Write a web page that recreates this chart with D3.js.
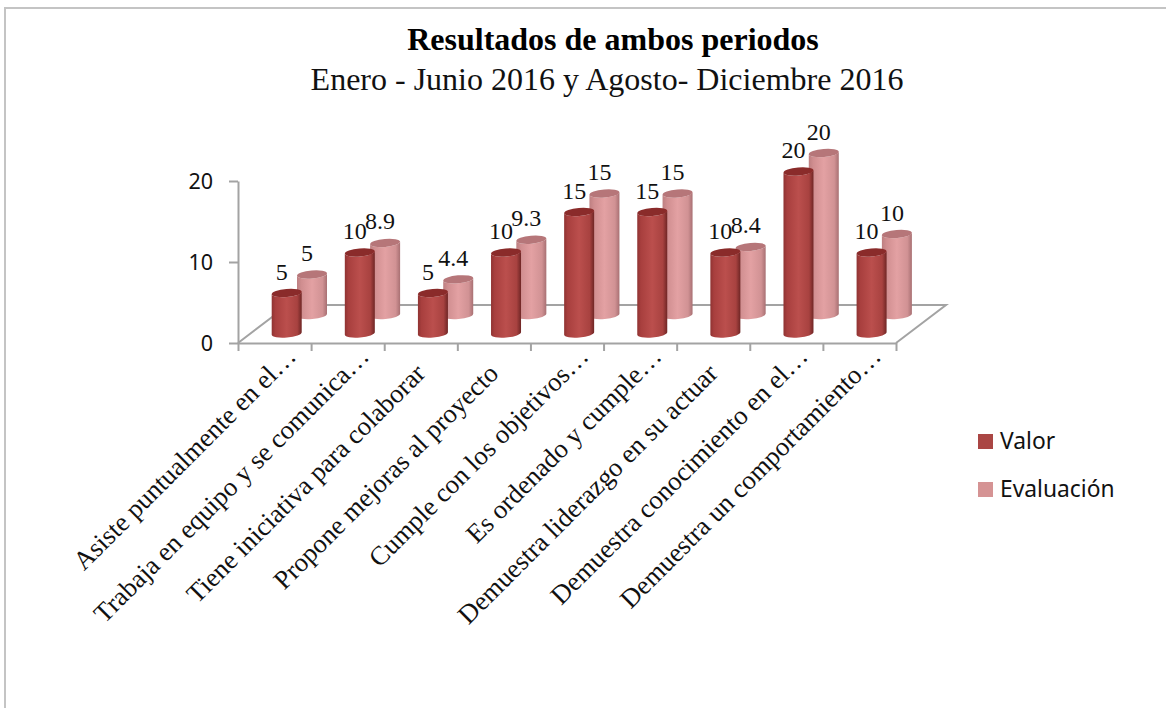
<!DOCTYPE html>
<html>
<head>
<meta charset="utf-8">
<script src="https://cdn.jsdelivr.net/npm/d3@7"></script>
<style>
  body { margin: 0; background: #fff; }
  svg { display: block; }
</style>
</head>
<body>
<svg id="chart"></svg>
<script>
const categories = [
  "Asiste puntualmente en el…",
  "Trabaja en equipo y se comunica…",
  "Tiene iniciativa para colaborar",
  "Propone mejoras al proyecto",
  "Cumple con los objetivos…",
  "Es ordenado y cumple…",
  "Demuestra liderazgo en su actuar",
  "Demuestra conocimiento en el…",
  "Demuestra un comportamiento…",
];
const valor = [5, 10, 5, 10, 15, 15, 10, 20, 10];
const evaluacion = [5, 8.9, 4.4, 9.3, 15, 15, 8.4, 20, 10];
const yTicks = [0, 10, 20];
const seriesNames = ["Valor", "Evaluación"];

const width = 1166;
const height = 708;
const axisColor = "#a3a3a3";
const serif = "'Liberation Serif', serif";
const sans = "'Noto Sans', sans-serif";

const svg = d3.select("#chart").attr("width", width).attr("height", height);

// thin frame, only top and left show in the original
svg.append("path")
  .attr("d", `M5,${height}V8H${width}`)
  .attr("fill", "none")
  .attr("stroke", "#c4c4c4")
  .attr("stroke-width", 2);

const x = d3.scaleBand().domain(categories).range([238, 896]);
const xEdge = d3.scaleLinear().domain([0, categories.length]).range([238, 896]);
const y = d3.scaleLinear().domain([0, 20]).range([343, 181]);

// floor of the fake 3d box
const depthX = 50;
const depthY = -38;
svg.append("path")
  .attr("d", `M238,343l${depthX},${depthY}H${896 + depthX}L896,343`)
  .attr("fill", "none")
  .attr("stroke", axisColor)
  .attr("stroke-width", 2);

const yAxis = svg.append("g")
  .attr("transform", "translate(238,0)")
  .call(d3.axisLeft(y).tickValues(yTicks).tickSize(9).tickPadding(16).tickSizeOuter(0));
yAxis.selectAll("text")
  .attr("font-family", sans)
  .attr("font-size", 21.5)
  .attr("fill", "#111")
  .attr("transform", "translate(0,1)");

const xAxis = svg.append("g")
  .attr("transform", "translate(0,343)")
  .call(d3.axisBottom(xEdge).ticks(categories.length).tickFormat("").tickSize(8).tickSizeOuter(0));

[yAxis, xAxis].forEach((g) => {
  g.selectAll("path, line").attr("stroke", axisColor).attr("stroke-width", 2);
});

// gradients for the cylinders
const defs = svg.append("defs");
const addGradient = (id, stops) => {
  const g = defs.append("linearGradient").attr("id", id);
  stops.forEach(([o, c]) => g.append("stop").attr("offset", o).attr("stop-color", c));
};
addGradient("gradValor", [[0, "#8f3332"], [0.12, "#a83f3e"], [0.5, "#bb4f4d"], [0.85, "#a84240"], [1, "#6f2625"]]);
addGradient("gradEval", [[0, "#bd7f81"], [0.15, "#d08e90"], [0.5, "#e3a1a3"], [0.85, "#d19294"], [1, "#a87073"]]);

const rx = 15;
const ry = 4;
const tilt = -5;
const lift = rx * Math.sin((tilt * Math.PI) / 180);

const cylinder = (cx, base, top) =>
  `M${cx - rx},${top - lift}L${cx - rx},${base - lift}` +
  `A${rx},${ry} ${tilt} 0 0 ${cx + rx},${base + lift}` +
  `L${cx + rx},${top + lift}` +
  `A${rx},${ry} ${tilt} 0 1 ${cx - rx},${top - lift}Z`;
const lid = (cx, top) =>
  `M${cx - rx},${top - lift}A${rx},${ry} ${tilt} 0 1 ${cx + rx},${top + lift}` +
  `A${rx},${ry} ${tilt} 0 1 ${cx - rx},${top - lift}Z`;

const series = [
  { values: evaluacion, dx: 74, dy: -28, fill: "url(#gradEval)", lid: "#b67679" },
  { values: valor, dx: 48.7, dy: -9.5, fill: "url(#gradValor)", lid: "#8a2b2a" },
];

series.forEach((s) => {
  const g = svg.append("g");
  const rows = s.values.map((v, i) => ({
    v,
    cx: x(categories[i]) + s.dx,
    base: y(0) + s.dy,
    top: y(v) + s.dy,
  }));
  g.selectAll("path.body").data(rows).join("path")
    .attr("class", "body")
    .attr("d", (d) => cylinder(d.cx, d.base, d.top))
    .attr("fill", s.fill);
  g.selectAll("path.lid").data(rows).join("path")
    .attr("class", "lid")
    .attr("d", (d) => lid(d.cx, d.top))
    .attr("fill", s.lid);
  s.rows = rows;
});

series.forEach((s) => {
  svg.append("g").selectAll("text").data(s.rows).join("text")
    .attr("x", (d) => d.cx - 5)
    .attr("y", (d) => d.top - 13.5)
    .attr("text-anchor", "middle")
    .attr("font-family", serif)
    .attr("font-size", 24)
    .attr("fill", "#111")
    .text((d) => d.v);
});

// rotated category labels, the cut ones reach further up
svg.append("g").selectAll("text").data(categories).join("text")
  .attr("transform", (d) => {
    const cut = d.endsWith("…");
    const px = x(d) + x.bandwidth() / 2 + (cut ? 23 : 6);
    const py = cut ? 358 : 375;
    return `translate(${px},${py}) rotate(-45)`;
  })
  .attr("text-anchor", "end")
  .attr("font-family", serif)
  .attr("font-size", 26.6)
  .attr("fill", "#111")
  .text((d) => d);

svg.append("text")
  .attr("x", 613).attr("y", 50)
  .attr("text-anchor", "middle")
  .attr("font-family", serif).attr("font-weight", "bold").attr("font-size", 32)
  .attr("fill", "#000")
  .text("Resultados de ambos periodos");
svg.append("text")
  .attr("x", 607).attr("y", 90)
  .attr("text-anchor", "middle")
  .attr("font-family", serif).attr("font-size", 32)
  .attr("fill", "#111")
  .text("Enero - Junio 2016 y Agosto- Diciembre 2016");

// legend
const legend = svg.append("g").selectAll("g").data(seriesNames).join("g")
  .attr("transform", (d, i) => `translate(978,${434 + i * 48})`);
legend.append("rect")
  .attr("width", 15).attr("height", 15)
  .attr("fill", (d, i) => (i === 0 ? "#aa4644" : "#d59394"));
legend.append("text")
  .attr("x", 22).attr("y", 15)
  .attr("font-family", sans).attr("font-size", 22.8)
  .attr("fill", "#111")
  .text((d) => d);
</script>
</body>
</html>
